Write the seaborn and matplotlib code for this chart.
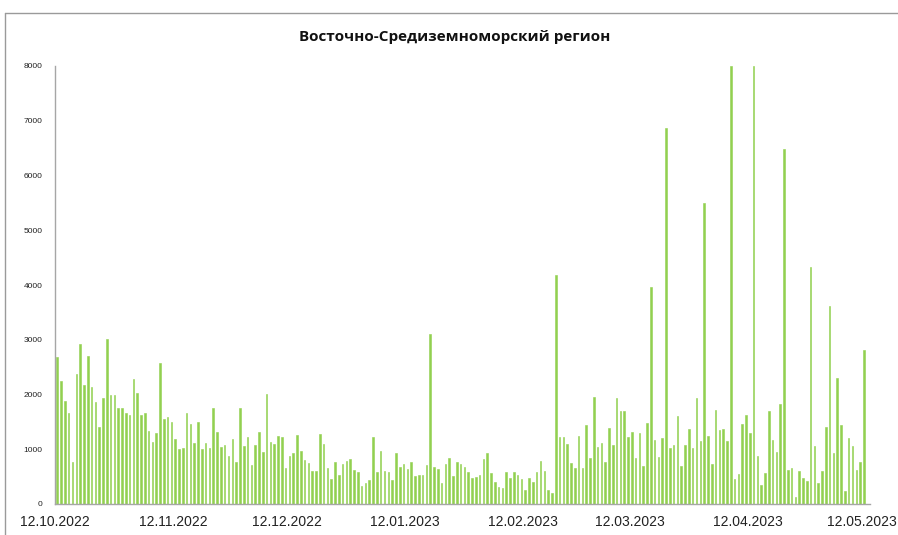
import numpy as np
import pandas as pd
import matplotlib
matplotlib.use("Agg")
import matplotlib.pyplot as plt
import seaborn as sns
from matplotlib.lines import Line2D

title = "Восточно-Средиземноморский регион"
start_date = "2022-10-12"
end_date = "2023-05-12"
tick_labels = ["12.10.2022", "12.11.2022", "12.12.2022", "12.01.2023",
               "12.02.2023", "12.03.2023", "12.04.2023", "12.05.2023"]
y_ticks = [0, 1000, 2000, 3000, 4000, 5000, 6000, 7000, 8000]

values = [
    2690, 2240, 1890, 1660, 770, 2370, 2930, 2180, 2700, 2130,
    1860, 1400, 1940, 3020, 1990, 1990, 1760, 1760, 1660, 1620,
    2290, 2020, 1620, 1670, 1340, 1140, 1300, 2580, 1550, 1590,
    1500, 1180, 1010, 1030, 1670, 1470, 1120, 1500, 1010, 1110,
    1020, 1760, 1310, 1050, 1070, 870, 1180, 760, 1760, 1060,
    1220, 710, 1070, 1320, 950, 2010, 1140, 1090, 1240, 1230,
    665, 885, 927, 1263, 976, 805, 750, 604, 604, 1287,
    1104, 665, 464, 769, 531, 726, 793, 824, 628, 592,
    329, 390, 445, 1220, 580, 970, 604, 592, 445, 939,
    671, 726, 647, 775, 512, 537, 525, 714, 3099, 683,
    634, 378, 738, 848, 506, 775, 726, 677, 592, 476,
    500, 537, 830, 939, 567, 409, 317, 299, 580, 476,
    580, 537, 458, 262, 476, 409, 580, 793, 604, 256,
    207, 4190, 1232, 1232, 1104, 756, 665, 1250, 665, 1452,
    836, 1952, 1049, 1116, 769, 1397, 1074, 1928, 1702, 1690,
    1220, 1312, 836, 1299, 702, 1488, 3960, 1165, 854, 1208,
    6860, 1019, 1080, 1604, 689, 1086, 1366, 1031, 1940, 1153,
    5490, 1250, 726, 1708, 1354, 1366, 1153, 8000, 464, 549,
    1458, 1617, 1299, 8000, 872, 354, 573, 1702, 1165, 952,
    1818, 6490, 622, 659, 128, 604, 476, 421, 4320, 1061,
    378, 604, 1415, 3620, 939, 2294, 1446, 244, 1208, 1055,
    628, 769, 2818,
]

dates = pd.date_range(start_date, end_date, freq="D")
df = pd.DataFrame({"date": dates, "value": values})
df["idx"] = np.arange(len(df))

sns.set_theme(style="white")
plt.rcParams["font.family"] = ["Liberation Sans", "DejaVu Sans"]

fig = plt.figure(figsize=(8.98, 5.35), dpi=100)
ax = fig.add_axes([55 / 898, 31 / 535, 815 / 898, 438 / 535])

sns.barplot(data=df, x="idx", y="value", native_scale=True, width=0.42,
            color="#92D050", saturation=1, linewidth=0.4,
            edgecolor="#92D050", ax=ax)

ax.set_xlim(-0.6, 213.6)
ax.set_ylim(0, 8000)

tick_dates = pd.to_datetime(tick_labels, format="%d.%m.%Y")
tick_pos = [int((d - dates[0]).days) - 0.55 for d in tick_dates]
ax.set_xticks(tick_pos)
ax.set_xticklabels(tick_labels, fontsize=10, color="#222222")
ax.set_yticks(y_ticks)
ax.set_yticklabels([str(v) for v in y_ticks], fontsize=6, color="#222222")
ax.set_xlabel("")
ax.set_ylabel("")

for s in ["top", "right"]:
    ax.spines[s].set_visible(False)
for s in ["left", "bottom"]:
    ax.spines[s].set_color("#a6a6a6")
    ax.spines[s].set_linewidth(1)

ax.tick_params(axis="x", direction="out", length=5, width=1, color="#a6a6a6", pad=3)
ax.tick_params(axis="y", direction="out", length=4, width=1, color="#a6a6a6", pad=5)
ax.grid(False)

fig.text(455 / 898, 1 - 37 / 535, title, ha="center", va="center",
         fontsize=11, fontweight="bold", family=["Open Sans", "DejaVu Sans"],
         color="#111111")

# chart frame
fig.add_artist(Line2D([5 / 898, 1], [1 - 13 / 535, 1 - 13 / 535],
                      transform=fig.transFigure, color="#9a9a9a", lw=1))
fig.add_artist(Line2D([5 / 898, 5 / 898], [0, 1 - 13 / 535],
                      transform=fig.transFigure, color="#9a9a9a", lw=1))

fig.savefig("out.png", dpi=100)
